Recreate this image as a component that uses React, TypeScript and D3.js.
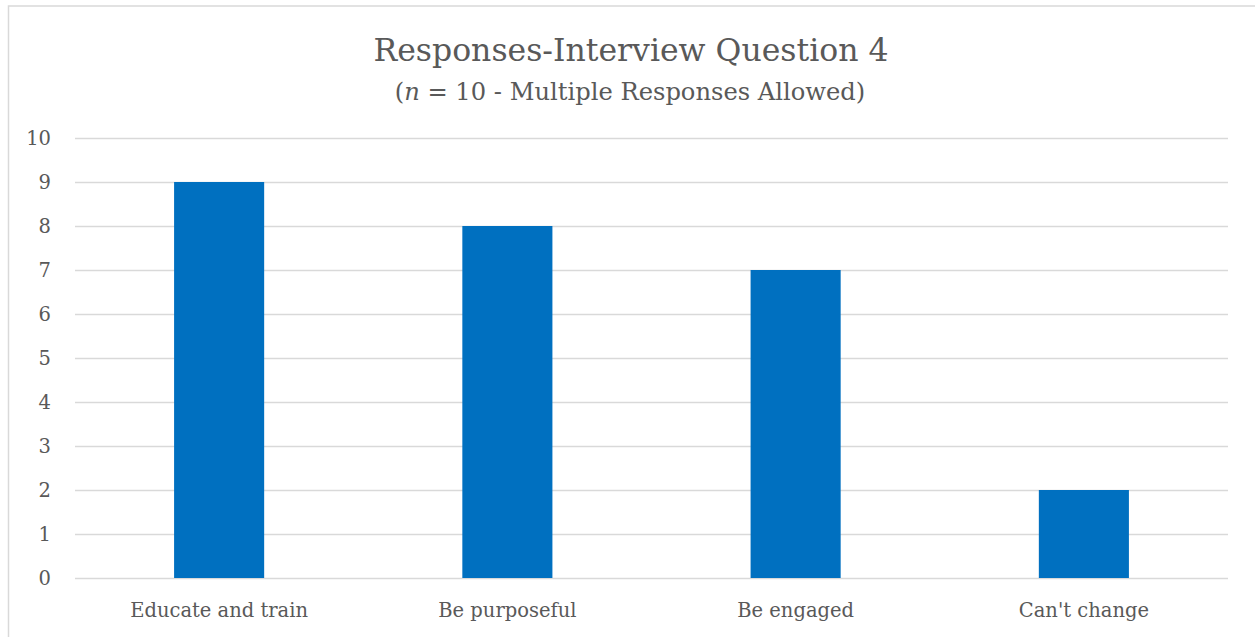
import { useEffect, useRef } from 'react'
import * as d3 from 'd3'

const W = 1255, H = 637
const M = { top: 138, right: 27, bottom: 59, left: 75 }

const CATEGORIES = ['Educate and train', 'Be purposeful', 'Be engaged', "Can't change"]
const COUNTS = [9, 8, 7, 2]
const Y_TICKS = [0, 1, 2, 3, 4, 5, 6, 7, 8, 9, 10]

const FONT = 'DejaVu Serif, Liberation Serif, serif'
const TEXT = '#595959'
const BAR = '#0070C0'
const GRID = '#d9d9d9'

export default function App() {
  const svgRef = useRef<SVGSVGElement>(null)

  useEffect(() => {
    const svg = d3.select(svgRef.current!)
    svg.selectAll('*').remove()

    const iw = W - M.left - M.right
    const ih = H - M.top - M.bottom

    svg.append('rect').attr('width', W).attr('height', H).attr('fill', '#fff')
    // chart frame (right/bottom edges fall outside the picture)
    svg.append('rect')
      .attr('x', 8.5).attr('y', 6).attr('width', W + 10).attr('height', H + 10)
      .attr('fill', 'none').attr('stroke', GRID).attr('stroke-width', 1.5)

    // ── titles ──────────────────────────────────────────────────────────
    svg.append('text')
      .attr('x', 631).attr('y', 61).attr('text-anchor', 'middle')
      .attr('font-family', FONT).attr('font-size', 31.5).attr('fill', TEXT)
      .text('Responses-Interview Question 4')

    const sub = svg.append('text')
      .attr('x', 630).attr('y', 99.5).attr('text-anchor', 'middle')
      .attr('font-family', FONT).attr('font-size', 24.2).attr('fill', TEXT)
    sub.append('tspan').text('(')
    sub.append('tspan').attr('font-style', 'italic').text('n')
    sub.append('tspan').text(' = 10 - Multiple Responses Allowed)')

    const g = svg.append('g').attr('transform', `translate(${M.left},${M.top})`)

    // ── scales ──────────────────────────────────────────────────────────
    const x = d3.scaleBand<string>().domain(CATEGORIES).range([0, iw])
      .paddingInner(0.6875).paddingOuter(0.34375)
    const y = d3.scaleLinear().domain([0, 10]).range([ih, 0])

    // ── gridlines + y labels ────────────────────────────────────────────
    g.append('g')
      .call(d3.axisLeft(y).tickValues(Y_TICKS).tickFormat(d3.format('d')).tickSize(-iw).tickPadding(24))
      .call(ax => {
        ax.select('.domain').remove()
        ax.selectAll('.tick line').attr('stroke', GRID).attr('stroke-width', 1.3)
        ax.selectAll('.tick text')
          .attr('font-size', 19.5).attr('font-family', FONT).attr('fill', TEXT)
      })

    // ── bars ────────────────────────────────────────────────────────────
    g.selectAll('rect.bar')
      .data(CATEGORIES)
      .join('rect').attr('class', 'bar')
      .attr('x', d => x(d)!)
      .attr('width', x.bandwidth())
      .attr('y', (_, i) => y(COUNTS[i]))
      .attr('height', (_, i) => ih - y(COUNTS[i]))
      .attr('fill', BAR)

    // ── x labels ────────────────────────────────────────────────────────
    g.append('g')
      .attr('transform', `translate(0,${ih})`)
      .call(d3.axisBottom(x).tickSize(0).tickPadding(25))
      .call(ax => {
        ax.select('.domain').remove()
        ax.selectAll('.tick text')
          .attr('font-size', 19.5).attr('font-family', FONT).attr('fill', TEXT)
      })
  }, [])

  return (
    <div style={{ position: 'fixed', left: 0, top: 0 }}>
      <svg ref={svgRef} width={W} height={H} style={{ display: 'block' }} />
    </div>
  )
}
